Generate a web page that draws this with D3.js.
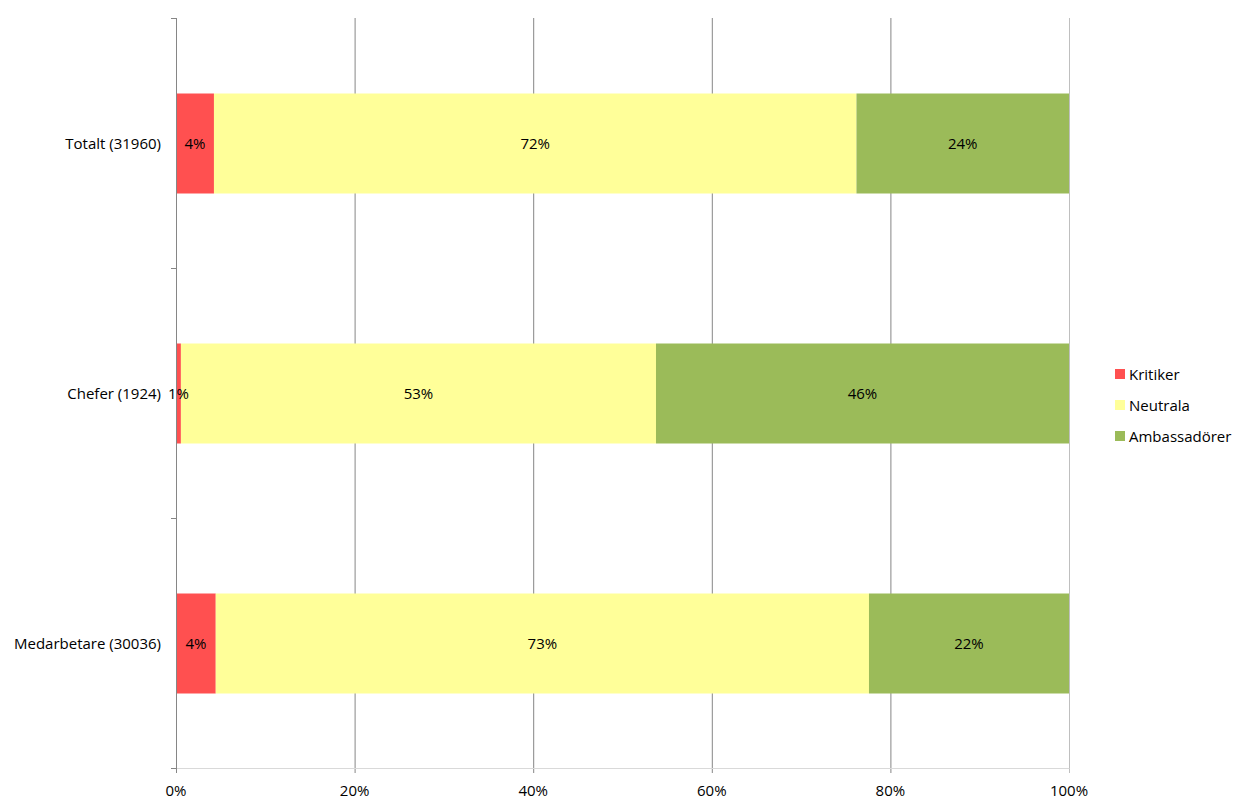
<!DOCTYPE html>
<html><head><meta charset="utf-8">
<script src="https://cdn.jsdelivr.net/npm/d3@7"></script>
<style>body{margin:0;background:#fff}svg{display:block}text{font-family:"Open Sans",Lato,sans-serif;font-size:15px;fill:#000}</style>
</head><body><svg id="c" width="1246" height="811"></svg>
<script>
const categories = ["Totalt (31960)", "Chefer (1924)", "Medarbetare (30036)"];
const seriesNames = ["Kritiker", "Neutrala", "Ambassadörer"];
const kritiker = [4.25, 0.55, 4.45];
const neutrala = [71.95, 53.2, 73.15];
const ambassadorer = [23.8, 46.25, 22.4];
const xTicks = [0, 20, 40, 60, 80, 100];
const colors = ["#FF5050", "#FFFF99", "#9BBB59"];

const svg = d3.select("#c");
const m = {l:176, r:1069, t:18, b:768};
const x = d3.scaleLinear().domain([0,100]).range([m.l, m.r]);
const y = d3.scaleBand().domain(categories).range([m.t, m.b]).paddingInner(0.6).paddingOuter(0.3);

svg.append("g").selectAll("line").data(xTicks.slice(1)).join("line")
  .attr("x1", d=>x(d)+0.5).attr("x2", d=>x(d)+0.5).attr("y1", m.t).attr("y2", m.b+5)
  .attr("stroke", d=> d===100 ? "#bfbfbf" : "#868686").attr("stroke-width",1);
svg.append("line").attr("x1", m.l).attr("x2", m.r+0.5).attr("y1", m.b+0.5).attr("y2", m.b+0.5).attr("stroke","#d9d9d9");

const rows = categories.map((c,i)=>({c, vals:[kritiker[i], neutrala[i], ambassadorer[i]]}));
const segs = [];
rows.forEach(r=>{ let acc=0; r.vals.forEach((v,j)=>{ segs.push({c:r.c, s:j, x0:acc, x1:acc+v, v}); acc+=v; }); });

svg.append("g").selectAll("rect").data(segs).join("rect")
  .attr("x", d=>x(d.x0)).attr("width", d=>x(d.x1)-x(d.x0))
  .attr("y", d=>y(d.c)+0.5).attr("height", y.bandwidth())
  .attr("fill", d=>colors[d.s]);

svg.append("g").selectAll("text").data(segs).join("text")
  .attr("x", d=>x((d.x0+d.x1)/2)).attr("y", d=>y(d.c)+y.bandwidth()/2)
  .attr("text-anchor","middle").attr("dominant-baseline","central")
  .text(d=>Math.round(d.v)+"%");

const ya = svg.append("g");
ya.append("line").attr("x1", m.l+0.5).attr("x2", m.l+0.5).attr("y1", m.t).attr("y2", m.b+5).attr("stroke","#868686");
const yTickPos = [0,1,2,3].map(i=> m.t + i*y.step());
ya.selectAll("line.t").data(yTickPos).join("line").attr("class","t")
  .attr("x1", m.l-5).attr("x2", m.l).attr("y1", d=>Math.round(d)+0.5).attr("y2", d=>Math.round(d)+0.5).attr("stroke","#868686");
ya.selectAll("text").data(categories).join("text")
  .attr("x", m.l-15).attr("y", d=>y(d)+y.bandwidth()/2)
  .attr("text-anchor","end").attr("dominant-baseline","central").text(d=>d);

svg.append("g").selectAll("text").data(xTicks).join("text")
  .attr("x", d=>x(d)).attr("y", 790).attr("text-anchor","middle").attr("dominant-baseline","central")
  .text(d=>d+"%");

const lg = svg.append("g");
seriesNames.forEach((n,i)=>{
  const yy = 374 + i*31;
  lg.append("rect").attr("x",1115).attr("y",yy-5).attr("width",10).attr("height",10).attr("fill",colors[i]);
  lg.append("text").attr("x",1129).attr("y",yy).attr("dominant-baseline","central").text(n);
});
</script></body></html>
